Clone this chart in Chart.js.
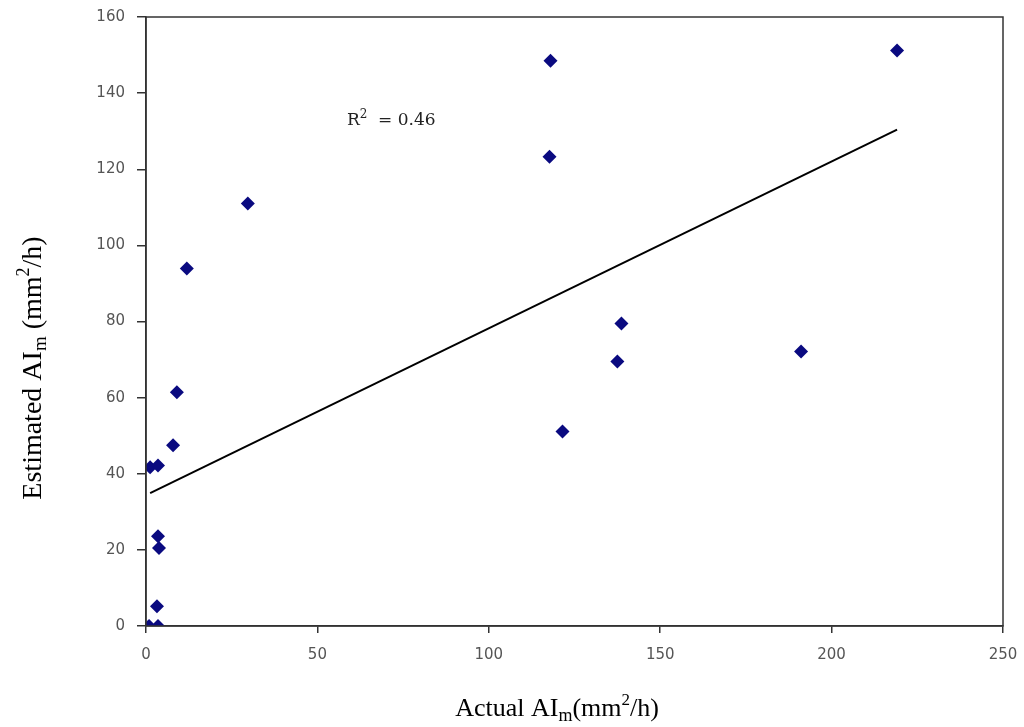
<!DOCTYPE html>
<html>
<head>
<meta charset="utf-8">
<script src="https://cdn.jsdelivr.net/npm/chart.js@4/dist/chart.umd.min.js"></script>
<style>
  html, body { margin: 0; padding: 0; background: #fff; }
  #wrap { width: 1024px; height: 727px; position: relative; }
</style>
</head>
<body>
<div id="wrap"><canvas id="scatterChart"></canvas></div>
<script>
// Actual vs estimated AI_m values (mm2/h)
const actualAI = [0.9, 3.5, 3.2, 3.5, 3.8, 1.2, 3.5, 7.9, 9.0, 11.9, 29.7, 117.7, 118.0, 121.5, 137.5, 138.7, 191.1, 219.1];
const estimatedAI = [0, 0, 5.2, 23.6, 20.5, 41.7, 42.2, 47.5, 61.4, 93.9, 111, 123.3, 148.5, 51.1, 69.5, 79.5, 72.1, 151.2];

// Linear trend line end points
const trendX = [1.2, 219.1];
const trendY = [34.9, 130.4];

const xTicks = [0, 50, 100, 150, 200, 250];
const yTicks = [0, 20, 40, 60, 80, 100, 120, 140, 160];
const rSquaredText = '0.46';

// Draw the frame, axis titles (with sub/superscripts) and the R2 note
const extrasPlugin = {
    id: 'extras',
    afterDraw(chart) {
        const c = chart.ctx;
        const area = chart.chartArea;
        c.save();
        c.strokeStyle = '#333';
        c.lineWidth = 1.5;
        c.strokeRect(area.left, area.top, area.right - area.left, area.bottom - area.top);

        c.fillStyle = '#000';
        c.textBaseline = 'alphabetic';

        function fontOf(p) {
            return p.size + 'px ' + (p.family || '"Liberation Serif", "Times New Roman", serif');
        }
        // helper to draw text runs with base / sub / sup pieces
        function runs(parts) {
            let w = 0;
            parts.forEach(p => {
                c.font = fontOf(p);
                w += c.measureText(p.t).width;
            });
            return w;
        }
        function drawRuns(parts, x, y) {
            parts.forEach(p => {
                c.font = fontOf(p);
                c.fillText(p.t, x, y + (p.dy || 0));
                x += c.measureText(p.t).width;
            });
        }

        // x axis title
        const xTitle = [
            { t: 'Actual AI', size: 26 },
            { t: 'm', size: 18, dy: 5 },
            { t: '(mm', size: 26 },
            { t: '2', size: 17, dy: -11 },
            { t: '/h)', size: 26 }
        ];
        const xw = runs(xTitle);
        drawRuns(xTitle, 557 - xw / 2, 716);

        // y axis title (rotated)
        const yTitle = [
            { t: 'Estimated AI', size: 28 },
            { t: 'm', size: 19, dy: 5 },
            { t: ' (mm', size: 28 },
            { t: '2', size: 18, dy: -12 },
            { t: '/h)', size: 28 }
        ];
        const yw = runs(yTitle);
        c.translate(41, 368);
        c.rotate(-Math.PI / 2);
        drawRuns(yTitle, -yw / 2, 0);
        c.setTransform(1, 0, 0, 1, 0, 0);
        c.scale(chart.currentDevicePixelRatio, chart.currentDevicePixelRatio);

        // R squared annotation
        const rx = chart.scales.x.getPixelForValue(58.6);
        const ry = chart.scales.y.getPixelForValue(131.5);
        c.fillStyle = '#222';
        const serif2 = '"DejaVu Serif", serif';
        drawRuns([
            { t: 'R', size: 17, family: serif2 },
            { t: '2', size: 12, dy: -7, family: serif2 },
            { t: '  = ' + rSquaredText, size: 17, family: serif2 }
        ], rx, ry);
        c.restore();
    }
};

const ctx = document.getElementById('scatterChart').getContext('2d');
const scatterChart = new Chart(ctx, {
    type: 'scatter',
    data: {
        datasets: [{
            label: 'Estimated vs actual',
            data: actualAI.map((x, i) => ({ x: x, y: estimatedAI[i] })),
            pointStyle: 'rectRot',
            pointRadius: 7,
            pointHoverRadius: 7,
            backgroundColor: '#0a0a80',
            borderColor: '#0a0a80',
            borderWidth: 0
        }, {
            type: 'line',
            label: 'Trend',
            data: trendX.map((x, i) => ({ x: x, y: trendY[i] })),
            borderColor: '#000',
            borderWidth: 2,
            pointRadius: 0,
            fill: false
        }]
    },
    options: {
        responsive: true,
        maintainAspectRatio: false,
        animation: false,
        layout: { padding: { top: 17, right: 21, left: 0, bottom: 0 } },
        plugins: {
            legend: { display: false },
            tooltip: { enabled: false }
        },
        scales: {
            x: {
                type: 'linear',
                min: 0,
                max: 250,
                afterBuildTicks: scale => { scale.ticks = xTicks.map(v => ({ value: v })); },
                afterFit: scale => {
                    scale.height = 101;
                    scale.paddingLeft = 0;
                    scale.paddingRight = 0;
                },
                grid: { drawOnChartArea: false, tickLength: 7, color: '#333', lineWidth: 1.5 },
                border: { color: '#333', width: 1.5 },
                ticks: {
                    color: '#555',
                    padding: 13,
                    maxRotation: 0,
                    font: { family: 'DejaVu Sans', size: 15 }
                }
            },
            y: {
                type: 'linear',
                min: 0,
                max: 160,
                afterBuildTicks: scale => { scale.ticks = yTicks.map(v => ({ value: v })); },
                afterFit: scale => {
                    scale.width = 146;
                    scale.paddingTop = 0;
                    scale.paddingBottom = 0;
                },
                grid: { drawOnChartArea: false, tickLength: 9, color: '#333', lineWidth: 1.5 },
                border: { color: '#333', width: 1.5 },
                ticks: {
                    color: '#555',
                    padding: 12,
                    font: { family: 'DejaVu Sans', size: 15 }
                }
            }
        }
    },
    plugins: [extrasPlugin]
});
</script>
</body>
</html>
